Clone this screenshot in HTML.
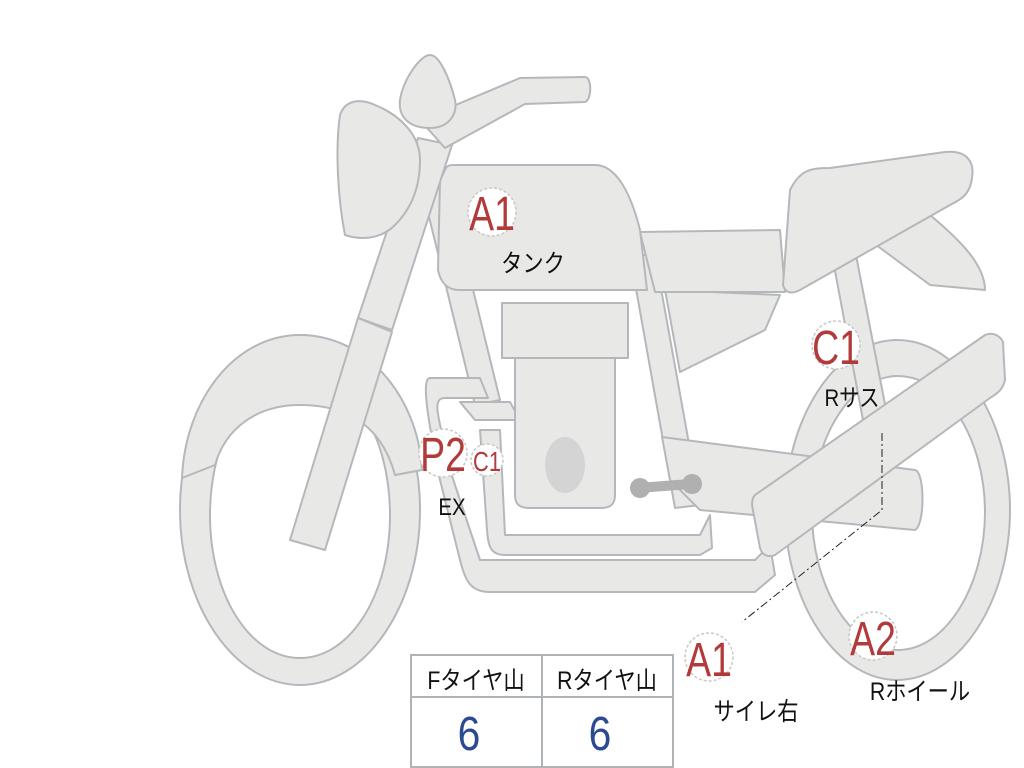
<!DOCTYPE html>
<html><head><meta charset="utf-8"><style>
html,body{margin:0;padding:0;background:#fff;width:1024px;height:768px;overflow:hidden}
svg{display:block}
.p{fill:#e8e8e6;stroke:#b5b8ba;stroke-width:2;stroke-linejoin:round}
.lab{fill:#b23a3a;font-family:"Liberation Sans",sans-serif}
.jp{font-family:"Liberation Sans","Noto Sans CJK JP",sans-serif;fill:#111}
.c{fill:#fff;stroke:#c8c8c8;stroke-width:1.5;stroke-dasharray:3 2}
</style></head><body>
<svg width="1024" height="768" viewBox="0 0 1024 768">
<!-- rear wheel -->
<path class="p" fill-rule="evenodd" d="M897,340 C960,340 1010,420 1010,510 C1010,600 960,680 897,680 C835,680 785,600 785,510 C785,420 835,340 897,340 Z M898,376 C850,376 812,440 812,512 C812,585 850,650 898,650 C946,650 985,585 985,512 C985,440 946,376 898,376 Z"/>
<!-- front wheel -->
<path class="p" fill-rule="evenodd" d="M300,335 C366,335 420,415 420,510 C420,605 366,685 300,685 C234,685 180,605 180,510 C180,415 234,335 300,335 Z M300,372 C250,372 210,435 210,515 C210,595 250,658 300,658 C350,658 390,595 390,515 C390,435 350,372 300,372 Z"/>
<!-- front fender -->
<path class="p" d="M182,478 C185,400 235,335 300,335 C365,335 418,395 422,470 L395,475 C380,420 340,405 300,405 C255,405 225,430 215,465 Z"/>
<!-- tail fender -->
<path class="p" d="M840,218 L930,215 C960,240 985,265 985,290 L930,285 Z"/>
<!-- rear shock -->
<path class="p" d="M832,255 L855,250 L890,430 L866,436 Z"/>
<!-- frame rear -->
<path class="p" d="M630,255 L655,255 L700,505 L675,508 Z"/>
<!-- side cover -->
<path class="p" d="M665,290 L780,295 L765,330 L680,372 Z"/>
<!-- down tube -->
<path class="p" d="M420,180 L445,175 L500,400 L475,405 Z"/>
<!-- exhaust pipes -->
<path class="p" d="M430,378 L480,378 L488,398 L445,398 C430,398 440,420 450,470 L480,560 L755,560 L770,545 L775,575 L755,592 L490,592 C470,592 465,580 460,560 L440,480 C430,430 420,378 430,378 Z"/>
<path class="p" d="M460,402 L510,402 L520,420 L475,420 Z"/>
<!-- swingarm -->
<path class="p" d="M662,437 L915,470 C925,472 925,525 915,530 L700,510 L670,480 Z"/>
<!-- engine -->
<path class="p" d="M515,355 L615,355 L615,495 C615,505 610,508 600,508 L530,508 C520,508 515,505 515,495 Z"/>
<path class="p" d="M480,430 L500,430 L505,535 L700,535 L710,515 L712,548 L700,555 L505,555 C490,555 488,545 487,530 Z"/>
<ellipse cx="565" cy="465" rx="20" ry="28" fill="#d4d4d4"/>
<path d="M638,488 L690,484" stroke="#b0b0b0" stroke-width="10"/>
<circle cx="640" cy="488" r="10" fill="#b0b0b0"/><circle cx="692" cy="484" r="10" fill="#b0b0b0"/>
<rect class="p" x="502" y="303" width="126" height="55"/>
<!-- muffler -->
<path class="p" d="M755,495 L985,335 C992,332 1000,335 1003,342 L1005,380 C1003,388 1000,392 990,398 L775,555 C768,558 762,555 760,548 L752,505 C752,500 753,497 755,495 Z"/>
<!-- seat -->
<path class="p" d="M640,232 L780,230 L785,292 L655,292 Z"/>
<path class="p" d="M790,190 C800,170 810,168 830,168 L945,152 C965,150 975,160 972,178 C970,195 960,200 950,205 L800,290 C790,295 785,292 783,285 Z"/>
<!-- tank -->
<path class="p" d="M445,170 C447,165 450,165 455,165 L595,165 C615,165 630,190 640,230 L647,290 L460,290 C445,290 440,280 438,270 L440,180 Z"/>
<!-- fork -->
<path class="p" d="M418,138 L452,145 L392,330 L358,318 Z"/>
<path class="p" d="M358,318 L392,332 L325,550 L290,540 Z"/>
<!-- headlight -->
<path class="p" d="M340,115 C345,100 360,98 375,105 C400,115 420,135 420,160 C420,190 410,210 395,225 C380,240 360,240 345,235 C338,200 335,150 340,115 Z"/>
<!-- handlebar -->
<path class="p" d="M420,120 L520,78 L585,77 C592,77 592,100 585,102 L525,104 L445,148 Z"/>
<!-- mirror top -->
<path class="p" d="M430,55 C440,55 450,80 455,100 C458,115 448,128 430,128 C410,128 398,118 400,100 C403,80 420,55 430,55 Z"/>

<!-- dash-dot leader -->
<path d="M882,433 L882,510 L742,622" fill="none" stroke="#222" stroke-width="1" stroke-dasharray="8 3 2 3"/>

<!-- labels -->
<circle class="c" cx="492" cy="212" r="24"/>
<text class="lab" transform="translate(492,230) scale(0.78,1)" font-size="48" text-anchor="middle">A1</text>
<text class="jp" transform="translate(533,272) scale(0.85,1)" font-size="25" text-anchor="middle">タンク</text>

<circle class="c" cx="836" cy="345" r="24"/>
<text class="lab" transform="translate(836,364) scale(0.78,1)" font-size="48" text-anchor="middle">C1</text>
<text class="jp" transform="translate(852,406) scale(0.85,1)" font-size="24" text-anchor="middle">Rサス</text>

<circle class="c" cx="443" cy="453" r="24"/>
<text class="lab" transform="translate(443,471) scale(0.78,1)" font-size="48" text-anchor="middle">P2</text>
<circle class="c" cx="487" cy="460" r="16"/>
<text class="lab" transform="translate(487,471) scale(0.78,1)" font-size="28" text-anchor="middle">C1</text>
<text class="jp" transform="translate(452,515) scale(0.85,1)" font-size="24" text-anchor="middle">EX</text>

<circle class="c" cx="709" cy="657" r="24"/>
<text class="lab" transform="translate(709,676) scale(0.78,1)" font-size="48" text-anchor="middle">A1</text>
<text class="jp" transform="translate(756,720) scale(0.85,1)" font-size="25" text-anchor="middle">サイレ右</text>

<circle class="c" cx="873" cy="636" r="24"/>
<text class="lab" transform="translate(873,655) scale(0.78,1)" font-size="48" text-anchor="middle">A2</text>
<text class="jp" transform="translate(920,700) scale(0.85,1)" font-size="25" text-anchor="middle">Rホイール</text>

<!-- table -->
<rect x="411" y="655" width="262" height="112" fill="#fff" stroke="#aeb3b8" stroke-width="2"/>
<line x1="411" y1="697" x2="673" y2="697" stroke="#aeb3b8" stroke-width="2"/>
<line x1="542" y1="655" x2="542" y2="767" stroke="#aeb3b8" stroke-width="2"/>
<text class="jp" transform="translate(476,689) scale(0.85,1)" font-size="25" text-anchor="middle">Fタイヤ山</text>
<text class="jp" transform="translate(607,689) scale(0.85,1)" font-size="25" text-anchor="middle">Rタイヤ山</text>
<text transform="translate(469,750) scale(0.85,1)" font-size="48" text-anchor="middle" fill="#2b4a92" font-family="Liberation Sans,sans-serif">6</text>
<text transform="translate(600,750) scale(0.85,1)" font-size="48" text-anchor="middle" fill="#2b4a92" font-family="Liberation Sans,sans-serif">6</text>
</svg>
</body></html>
